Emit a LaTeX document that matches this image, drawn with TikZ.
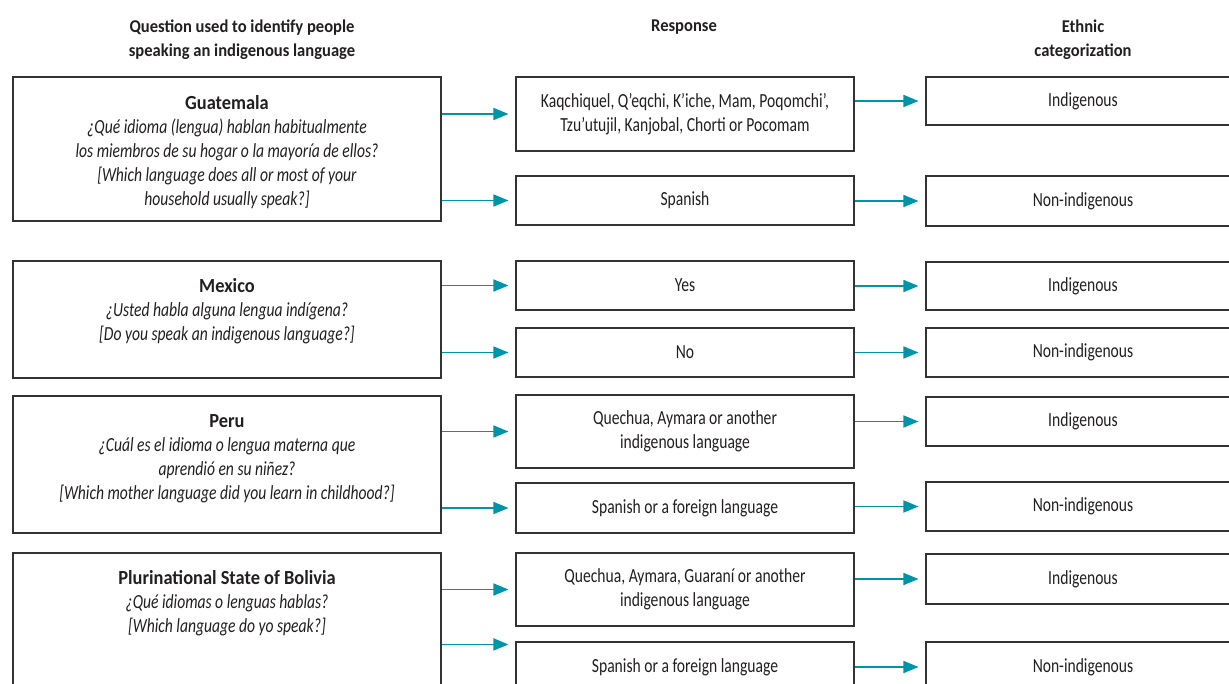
\documentclass[tikz,border=0pt]{standalone}
\usepackage{fontspec}
\setmainfont[FakeStretch=0.78,BoldFeatures={FakeStretch=0.92}]{Carlito}
\usetikzlibrary{arrows.meta}
\definecolor{arrowteal}{RGB}{0,148,168}
\definecolor{boxgray}{RGB}{51,51,51}
\definecolor{txtgray}{RGB}{35,31,32}
\begin{document}
\begin{tikzpicture}[x=1pt,y=-1pt,
  every node/.style={text=txtgray,font=\fontsize{20}{24}\selectfont},
  box/.style={draw=boxgray,line width=1.1pt,rectangle,inner sep=0pt,align=center},
  qbox/.style={box,minimum width=428pt},
  abox/.style={box,minimum width=338pt},
  cbox/.style={box,minimum width=314pt},
  head/.style={align=center,font=\fontsize{18}{24}\selectfont\bfseries},
  qtext/.style={anchor=north,align=center,inner sep=0pt},
  arr/.style={draw=arrowteal,line width=1.6pt,-{Triangle[length=15pt,width=12pt,fill=arrowteal]},shorten >=7pt}]
  \clip (0,0) rectangle (1229,684);
  \fill[white] (0,0) rectangle (1229,684);
  \node[head] (hq) at (242,39.5) {Question used to identify people\\speaking an indigenous language};
  \node[head] (hr) at (684,27) {Response};
  \node[head] (hc) at (1083,39.5) {Ethnic\\categorization};
  \node[qbox,minimum height=144pt] (lguat) at (227,149) {};
  \node[qbox,minimum height=117pt] (lmex) at (227,319.5) {};
  \node[qbox,minimum height=137pt] (lper) at (227,464.5) {};
  \node[qbox,minimum height=167pt] (lbol) at (227,636.5) {};
  \node[qtext] (tguat) at (227,95) {\textbf{Guatemala}\\\textit{¿Qué idioma (lengua) hablan habitualmente}\\\textit{los miembros de su hogar o la mayoría de ellos?}\\\textit{[Which language does all or most of your}\\\textit{household usually speak?]}};
  \node[qtext] (tmex) at (227,278) {\textbf{Mexico}\\\textit{¿Usted habla alguna lengua indígena?}\\\textit{[Do you speak an indigenous language?]}};
  \node[qtext] (tper) at (227,414) {\textbf{Peru}\\\textit{¿Cuál es el idioma o lengua materna que}\\\textit{aprendió en su niñez?}\\\textit{[Which mother language did you learn in childhood?]}};
  \node[qtext] (tbol) at (227,570) {\textbf{Plurinational State of Bolivia}\\\textit{¿Qué idiomas o lenguas hablas?}\\\textit{[Which language do yo speak?]}};
  \node[abox,minimum height=74pt] (mguata) at (685,114) {Kaqchiquel, Q’eqchi, K’iche, Mam, Poqomchi’,\\Tzu’utujil, Kanjobal, Chorti or Pocomam};
  \node[abox,minimum height=49pt] (mguatb) at (685,200.5) {Spanish};
  \node[abox,minimum height=49pt] (mmexa) at (685,285.5) {Yes};
  \node[abox,minimum height=49pt] (mmexb) at (685,352.5) {No};
  \node[abox,minimum height=73pt] (mpera) at (685,431.5) {Quechua, Aymara or another\\indigenous language};
  \node[abox,minimum height=50pt] (mperb) at (685,508) {Spanish or a foreign language};
  \node[abox,minimum height=73pt] (mbola) at (685,589.5) {Quechua, Aymara, Guaraní or another\\indigenous language};
  \node[abox,minimum height=50pt] (mbolb) at (685,667) {Spanish or a foreign language};
  \node[cbox,minimum height=48pt] (rguata) at (1083,101) {Indigenous};
  \node[cbox,minimum height=50pt] (rguatb) at (1083,201) {Non-indigenous};
  \node[cbox,minimum height=48pt] (rmexa) at (1083,286) {Indigenous};
  \node[cbox,minimum height=49pt] (rmexb) at (1083,352.5) {Non-indigenous};
  \node[cbox,minimum height=49pt] (rpera) at (1083,421.5) {Indigenous};
  \node[cbox,minimum height=49pt] (rperb) at (1083,506.5) {Non-indigenous};
  \node[cbox,minimum height=50pt] (rbola) at (1083,579) {Indigenous};
  \node[cbox,minimum height=50pt] (rbolb) at (1083,667) {Non-indigenous};
  \coordinate (bolin) at ([yshift=-3pt]mbolb.north west);
  \foreach \a/\b in {lguat/mguata,lguat/mguatb,lmex/mmexa,lmex/mmexb,lper/mpera,lper/mperb,lbol/mbola}
    \draw[arr] (\b.west -| \a.east) -- (\b.west);
  \draw[arr] (bolin -| lbol.east) -- (bolin);
  \foreach \a/\b in {mguata/rguata,mguatb/rguatb,mmexa/rmexa,mmexb/rmexb,mpera/rpera,mperb/rperb,mbola/rbola,mbolb/rbolb}
    \draw[arr] (\b.west -| \a.east) -- (\b.west);
\end{tikzpicture}
\end{document}
